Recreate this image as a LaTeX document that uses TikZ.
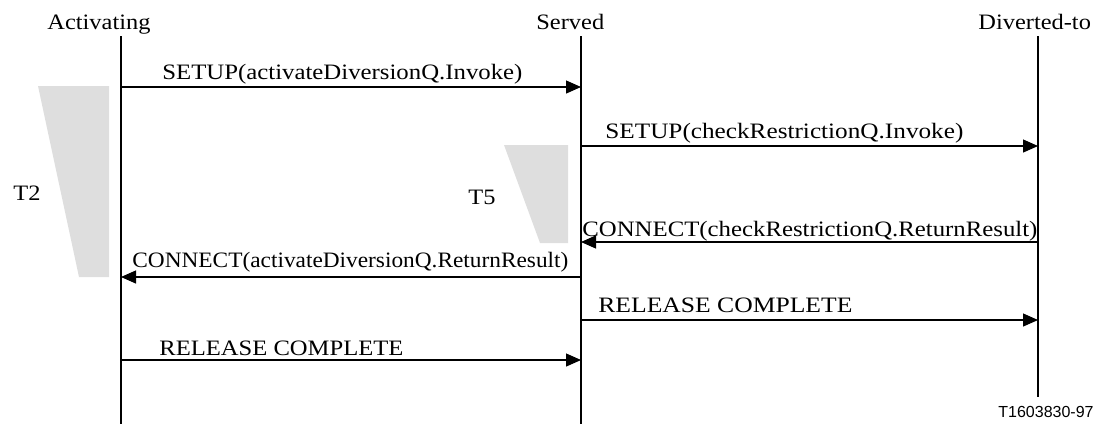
\documentclass[tikz,border=0pt]{standalone}
\usepackage{fontspec}
\usepackage{graphicx}
\setmainfont{Liberation Serif}[FakeStretch=1.11]
\newfontfamily\labsans{Liberation Sans}
\usetikzlibrary{arrows.meta}
\definecolor{timergray}{HTML}{DEDEDE}
\newcommand{\fitw}[2]{\resizebox{#1pt}{\height}{#2}}
\begin{document}
\begin{tikzpicture}[x=0.5pt,y=-0.5pt,
  txt/.style={inner sep=0pt,anchor=base west,font=\fontsize{11}{13}\selectfont},
  lifeline/.style={line width=1pt},
  thinlife/.style={line width=0.6pt},
  msg/.style={line width=0.6pt,-{Triangle[length=7.5pt,width=6.5pt]}},
  timer/.style={fill=timergray,draw=none}]
\useasboundingbox (0,0) rectangle (1096,424);
% headers
\node[txt] (hA) at (47,29) {Activating};
\node[txt] (hS) at (536,29) {Served};
\node[txt] (hD) at (978,29) {Diverted-to};
% lifelines
\coordinate (At) at (121,36); \coordinate (Ab) at (121,424);
\coordinate (St) at (581,36); \coordinate (Sb) at (581,424);
\coordinate (Dt) at (1038,36); \coordinate (Db) at (1038,397);
\draw[lifeline] (At) -- (Ab);
\draw[thinlife] (St) -- (Sb);
\draw[lifeline] (Dt) -- (Db);
% timers
\fill[timer] (38,86) -- (109,86) -- (109,277) -- (79,277) -- cycle;
\fill[timer] (504,145) -- (568,145) -- (568,243) -- (540,243) -- cycle;
\node[txt] (t2) at (13,200) {T2};
\node[txt] (t5) at (468,204) {T5};
% message end points
\coordinate (a1) at (121,87);  \coordinate (s1) at (581,87);
\coordinate (s2) at (581,146); \coordinate (d2) at (1038,146);
\coordinate (d3) at (1038,242); \coordinate (s3) at (581,242);
\coordinate (s4) at (581,277); \coordinate (a4) at (121,277);
\coordinate (s5) at (581,320); \coordinate (d5) at (1038,320);
\coordinate (a6) at (121,360); \coordinate (s6) at (581,360);
% messages
\draw[msg] (a1) -- (s1);
\draw[msg] (s2) -- (d2);
\draw[msg] (d3) -- (s3);
\draw[msg] (s4) -- (a4);
\draw[msg] (s5) -- (d5);
\draw[msg] (a6) -- (s6);
% labels
\node[txt] (l1) at (162,79) {\fitw{180}{SETUP(activateDiversionQ.Invoke)}};
\node[txt] (l2) at (605,138) {\fitw{179}{SETUP(checkRestrictionQ.Invoke)}};
\node[txt] (l3) at (582,236) {\fitw{227.5}{CONNECT(checkRestrictionQ.ReturnResult)}};
\node[txt] (l4) at (132,267) {\fitw{218}{CONNECT(activateDiversionQ.ReturnResult)}};
\node[txt] (l5) at (598,312) {\fitw{127}{RELEASE COMPLETE}};
\node[txt] (l6) at (159,355) {\fitw{122}{RELEASE COMPLETE}};
\node[inner sep=0pt,anchor=base west,font=\labsans\fontsize{8}{10}\selectfont] (fig) at (998,417) {T1603830-97};
\end{tikzpicture}
\end{document}
